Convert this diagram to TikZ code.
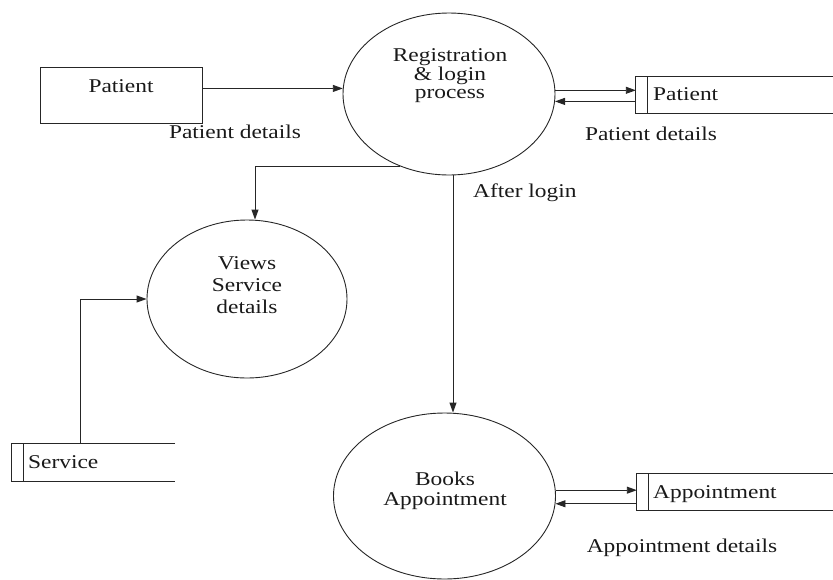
\documentclass[tikz,border=0pt]{standalone}
\usepackage{fontspec}
\setmainfont{Liberation Serif}[FakeStretch=1.2]
\usetikzlibrary{shapes.geometric,arrows.meta}
\begin{document}
\begin{tikzpicture}[x=1pt,y=-1pt,
  line/.style={draw=black!85,line width=0.9pt},
  arr/.style={line,-{Triangle[length=10pt,width=7pt]}},
  proc/.style={ellipse,line,inner sep=0pt},
  anchorbox/.style={rectangle,draw=none,inner sep=0pt},
  txt/.style={font=\fontsize{19.5}{22}\selectfont,inner sep=0pt,text=black!90}]
\useasboundingbox (0,0) rectangle (833,579);
% process bubbles
\node[proc,minimum width=212pt,minimum height=162pt] (reg) at (449,94) {};
\node[proc,minimum width=200pt,minimum height=158pt] (views) at (247,299) {};
\node[proc,minimum width=222pt,minimum height=166pt] (books) at (444.5,496) {};
% external entity
\node[anchorbox,draw=black!85,line width=0.9pt,minimum width=162pt,minimum height=56pt] (pat) at (121,95) {};
% data stores
\node[anchorbox,minimum width=197pt,minimum height=36pt] (pst) at (734.5,95) {};
\node[anchorbox,minimum width=196pt,minimum height=36pt] (ast) at (735,492) {};
\node[anchorbox,minimum width=163pt,minimum height=37pt] (sst) at (93.5,462.5) {};
\foreach \s in {pst,ast,sst}{
  \draw[line] (\s.north east) -- (\s.north west) -- (\s.south west) -- (\s.south east);
  \draw[line] ([xshift=11.5pt]\s.north west) -- ([xshift=11.5pt]\s.south west);
}
% texts
\node[txt,anchor=base] (tpat) at (121,92.7) {Patient};
\node[txt,anchor=base] (treg1) at (450,61.7) {Registration};
\node[txt,anchor=base] (treg2) at (450,80) {\& login};
\node[txt,anchor=base] (treg3) at (450,98) {process};
\node[txt,anchor=base west] (tpst) at (653,100) {Patient};
\node[txt,anchor=base] (lpd1) at (235,138) {Patient details};
\node[txt,anchor=base] (lpd2) at (651,140) {Patient details};
\node[txt,anchor=base west] (lal) at (473,197) {After login};
\node[txt,anchor=base] (tv1) at (247,269) {Views};
\node[txt,anchor=base] (tv2) at (247,291) {Service};
\node[txt,anchor=base] (tv3) at (247,313) {details};
\node[txt,anchor=base west] (tsst) at (28,468) {Service};
\node[txt,anchor=base] (tb1) at (445,485) {Books};
\node[txt,anchor=base] (tb2) at (445,505) {Appointment};
\node[txt,anchor=base west] (tast) at (653,498) {Appointment};
\node[txt,anchor=base] (lad) at (682,552) {Appointment details};
% helper coordinates
\coordinate (vx) at (453,0);
\coordinate (vx2) at (255,0);
\coordinate (sx) at (80,0);
% flows
\draw[arr] (pat.east |- reg.177.3) -- (reg.177.3);
\draw[arr] (reg.2.7) -- (pst.west |- reg.2.7);
\draw[arr] (pst.west |- reg.-4.9) -- (reg.-4.9);
\draw[arr] (reg.-124.2) -| (views.north -| vx2);
\draw[arr] (sst.north -| sx) |- (views.west);
\draw[arr] (reg.south -| vx) -- (books.north -| vx);
\draw[arr] (books.3.6) -- (ast.west |- books.3.6);
\draw[arr] (ast.west |- books.-4.6) -- (books.-4.6);
\end{tikzpicture}
\end{document}
